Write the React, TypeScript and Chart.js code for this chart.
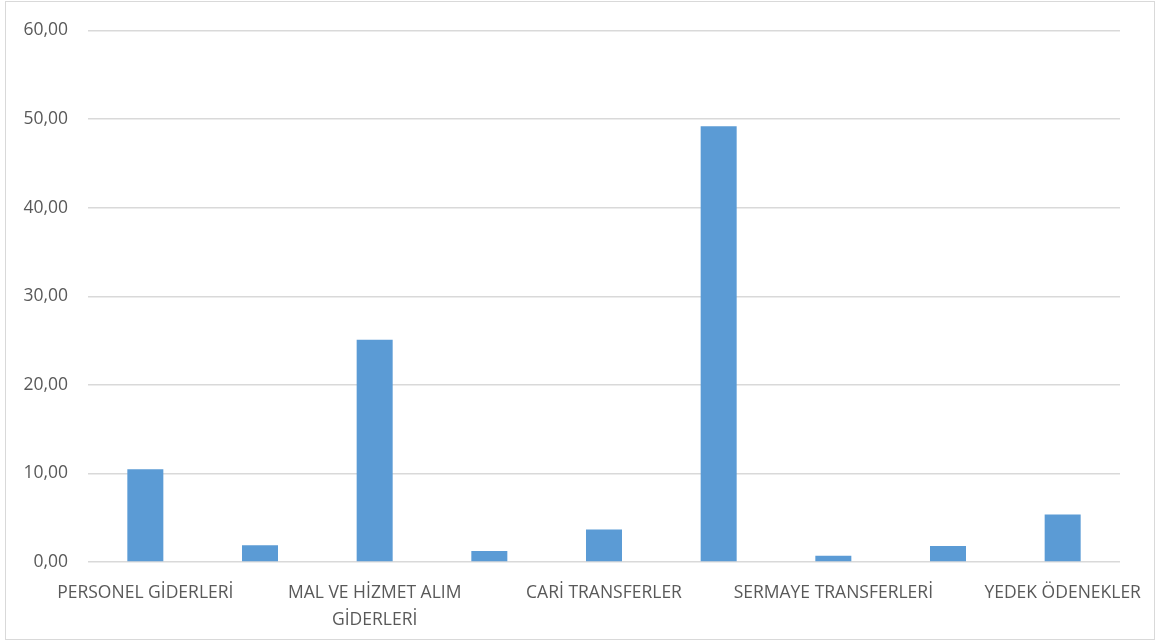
import React, { useEffect, useRef } from "react";
import { Chart, registerables } from "chart.js";

Chart.register(...registerables);

const categories: string[] = [
  "PERSONEL GİDERLERİ",
  "SOSYAL GÜVENLİK KURUMLARINA DEVLET PRİMİ GİDERLERİ",
  "MAL VE HİZMET ALIM GİDERLERİ",
  "FAİZ GİDERLERİ",
  "CARİ TRANSFERLER",
  "SERMAYE GİDERLERİ",
  "SERMAYE TRANSFERLERİ",
  "BORÇ VERME",
  "YEDEK ÖDENEKLER",
];

const values: number[] = [10.47, 1.9, 25.1, 1.24, 3.68, 49.2, 0.71, 1.8, 5.37];

const xTickLabels: (string | string[])[] = [
  "PERSONEL GİDERLERİ",
  "",
  ["MAL VE HİZMET ALIM", "GİDERLERİ"],
  "",
  "CARİ TRANSFERLER",
  "",
  "SERMAYE TRANSFERLERİ",
  "",
  "YEDEK ÖDENEKLER",
];

const yTicks: number[] = [0, 10, 20, 30, 40, 50, 60];

export default function App() {
  const canvasRef = useRef<HTMLCanvasElement | null>(null);

  useEffect(() => {
    if (!canvasRef.current) return;
    const font = { family: "'Open Sans', sans-serif", size: 17.5 };
    const chart = new Chart(canvasRef.current, {
      type: "bar",
      data: {
        labels: categories,
        datasets: [
          {
            data: values,
            backgroundColor: "#5B9BD5",
            borderWidth: 0,
            categoryPercentage: 1,
            barPercentage: 0.314,
          },
        ],
      },
      options: {
        animation: false,
        responsive: false,
        maintainAspectRatio: false,
        layout: { padding: { top: 29, left: 0, right: 38, bottom: 0 } },
        plugins: { legend: { display: false }, tooltip: { enabled: false } },
        scales: {
          x: {
            grid: { display: false },
            border: { display: false },
            ticks: {
              autoSkip: false,
              maxRotation: 0,
              minRotation: 0,
              padding: 9,
              color: "#595959",
              font: { ...font, lineHeight: 1.55 },
              callback: (_v: any, i: number) => xTickLabels[i],
            },
            afterFit: (s: any) => {
              s.height = 81;
            },
          },
          y: {
            min: 0,
            max: 60,
            afterBuildTicks: (s: any) => {
              s.ticks = yTicks.map((v) => ({ value: v }));
            },
            grid: { color: "#d9d9d9", lineWidth: 1.5, drawTicks: false },
            border: { display: false },
            ticks: {
              padding: 20,
              color: "#595959",
              font,
              callback: (v: any) => Number(v).toFixed(2).replace(".", ","),
            },
            afterFit: (s: any) => {
              s.width = 88;
            },
          },
        },
      },
    });
    return () => chart.destroy();
  }, []);

  return (
    <div style={{ position: "fixed", left: 0, top: 0, width: 1158, height: 643, background: "#fff" }}>
      <div
        style={{
          position: "absolute",
          left: 5,
          top: 1,
          width: 1150,
          height: 639,
          border: "1px solid #d9d9d9",
          boxSizing: "border-box",
        }}
      />
      <canvas ref={canvasRef} width={1158} height={643} style={{ position: "absolute", left: 0, top: 0 }} />
    </div>
  );
}
